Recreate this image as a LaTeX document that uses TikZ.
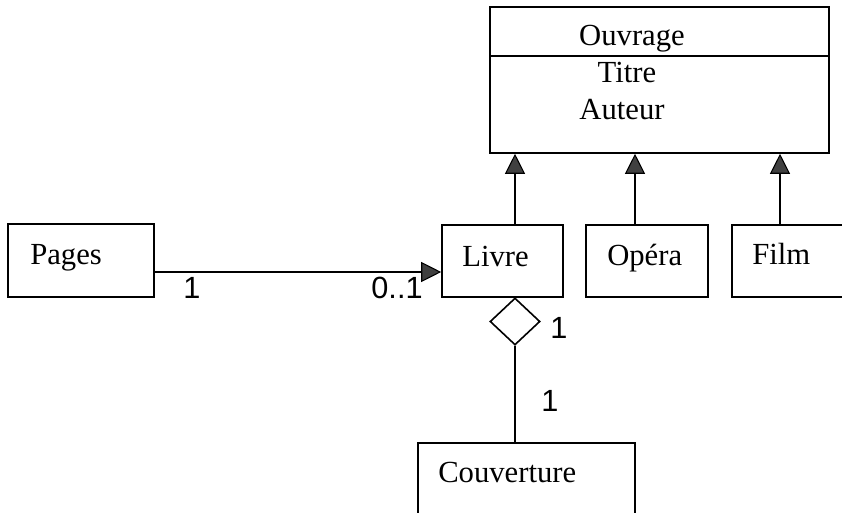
\documentclass[tikz,border=0pt]{standalone}
\usepackage{fontspec}
\setmainfont{Liberation Serif}
\newfontfamily\labelfont{Liberation Sans}
\usetikzlibrary{arrows.meta,shapes.geometric}
\definecolor{tipgray}{HTML}{404040}
\tikzset{
  umlbox/.style={draw, line width=1.2pt, rectangle, inner sep=0pt},
  boxtext/.style={font=\fontsize{23}{27}\selectfont, inner sep=0pt},
  mult/.style={font=\labelfont\fontsize{23}{27}\selectfont, inner sep=0pt},
  link/.style={line width=1.2pt},
  gen/.style={link, -{Triangle[length=15pt,width=15pt,fill=tipgray,line width=0.8pt]}},
  aggr/.style={draw, line width=1.2pt, diamond, inner sep=0pt, minimum width=37.5pt, minimum height=35.25pt}
}
\begin{document}
\begin{tikzpicture}[x=0.75pt,y=-0.75pt]
\useasboundingbox (0,0) rectangle (842,513);
\clip (0,0) rectangle (842,513);
\fill[white] (0,0) rectangle (842,513);

% class boxes
\node[umlbox, minimum width=254.25pt, minimum height=109.5pt] (ouvrage) at (659.5,80) {};
\draw[link] (ouvrage.west |- 0,56) -- (ouvrage.east |- 0,56);
\node[boxtext, anchor=base] (ouvt) at (632,46) {Ouvrage};
\node[boxtext, anchor=base] (titre) at (627,83) {Titre};
\node[boxtext, anchor=base] (auteur) at (622,120) {Auteur};

\node[umlbox, minimum width=109.5pt, minimum height=54.75pt] (pages) at (81,260.5) {};
\node[boxtext, anchor=base west] (pagest) at (30,265) {Pages};

\node[umlbox, minimum width=90.75pt, minimum height=54pt] (livre) at (502.5,261) {};
\node[boxtext, anchor=base west] (livret) at (462,267) {Livre};

\node[umlbox, minimum width=91.5pt, minimum height=54pt] (opera) at (647,261) {};
\node[boxtext, anchor=base west] (operat) at (607,266) {Opéra};

\node[umlbox, minimum width=88.5pt, minimum height=54pt] (film) at (791,261) {};
\node[boxtext, anchor=base west] (filmt) at (752,265) {Film};

\node[umlbox, minimum width=162.75pt, minimum height=57.75pt] (couv) at (526.5,481.5) {};
\node[boxtext, anchor=base west] (couvt) at (438,482) {Couverture};

% generalisation arrows
\draw[gen] ([xshift=9.375pt]livre.north) -- ([xshift=9.375pt]livre.north |- ouvrage.south);
\draw[gen] ([xshift=-9pt]opera.north) -- ([xshift=-9pt]opera.north |- ouvrage.south);
\draw[gen] ([xshift=-8.25pt]film.north) -- ([xshift=-8.25pt]film.north |- ouvrage.south);

% association Pages -> Livre
\draw[gen] ([yshift=-8.625pt]pages.east) -- ([yshift=-8.625pt]pages.east -| livre.west);
\node[mult] (m1) at (192,288) {1};
\node[mult] (m2) at (397,288) {0..1};

% aggregation Livre <>-- Couverture
\node[aggr] (dia) at (515,321.5) {};
\draw[link] (dia.south) -- (dia.south |- couv.north);
\node[mult] (m3) at (559,328) {1};
\node[mult] (m4) at (550,401) {1};
\end{tikzpicture}
\end{document}
